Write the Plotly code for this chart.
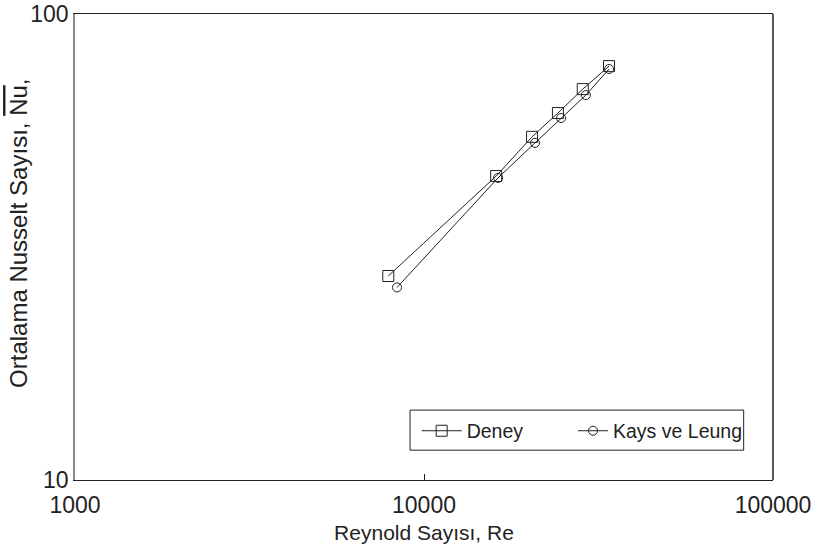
import plotly.graph_objects as go

# Experimental results (Deney)
re_deney = [7900, 16100, 20400, 24200, 28500, 33900]
nu_deney = [27.4, 44.9, 54.5, 61.3, 69.0, 77.3]

# Kays & Leung correlation
re_kays = [8370, 16300, 20800, 24700, 29100, 33900]
nu_kays = [25.9, 44.5, 52.9, 59.8, 67.0, 76.2]

x_ticks = [1000, 10000, 100000]
y_ticks = [10, 100]

FONT = "Liberation Sans, Arial, sans-serif"
INK = "#222222"

fig = go.Figure()
fig.add_trace(go.Scatter(
    x=re_deney, y=nu_deney, mode="lines+markers", name="Deney", legend="legend",
    line=dict(color=INK, width=1),
    marker=dict(symbol="square-open", size=11, color=INK, line=dict(width=1, color=INK)),
))
fig.add_trace(go.Scatter(
    x=re_kays, y=nu_kays, mode="lines+markers", name="Kays ve Leung", legend="legend2",
    line=dict(color=INK, width=1),
    marker=dict(symbol="circle-open", size=9, color=INK, line=dict(width=1, color=INK)),
))

legend_common = dict(
    orientation="h", yanchor="middle", xanchor="left", y=0.105,
    borderwidth=0, bgcolor="rgba(0,0,0,0)",
    font=dict(family=FONT, size=19.5, color=INK),
)

fig.update_layout(
    width=815, height=550,
    margin=dict(l=75, r=42, t=14, b=70),
    paper_bgcolor="white", plot_bgcolor="white",
    font=dict(family=FONT, size=20, color=INK),
    showlegend=True,
    legend=dict(legend_common, x=0.4895, itemwidth=40),
    legend2=dict(legend_common, x=0.7135, itemwidth=30),
    xaxis=dict(
        type="log", range=[3, 5], tickvals=x_ticks, ticktext=[str(v) for v in x_ticks],
        ticks="inside", ticklen=6, tickcolor=INK, ticklabelstandoff=4,
        showline=True, linecolor=INK, linewidth=1, mirror=True,
        showgrid=False, zeroline=False, automargin=False,
        tickfont=dict(size=23),
        title=dict(text="Reynold Sayısı, Re", font=dict(size=21), standoff=8),
    ),
    yaxis=dict(
        type="log", range=[1, 2], tickvals=y_ticks, ticktext=[str(v) for v in y_ticks],
        ticks="", showline=True, linecolor="#8a8a8a", linewidth=1.5,
        showgrid=False, zeroline=False, automargin=False,
        tickfont=dict(size=23),
    ),
    shapes=[
        # right-hand frame edge
        dict(type="line", xref="paper", yref="paper", x0=1, x1=1, y0=0, y1=1,
             line=dict(color=INK, width=1.5)),
        # legend frame
        dict(type="rect", xref="paper", yref="paper", x0=0.48, x1=0.958, y0=0.064, y1=0.150,
             line=dict(color=INK, width=1), fillcolor="rgba(0,0,0,0)", layer="above"),
    ],
    annotations=[dict(
        text="Ortalama Nusselt Sayısı, <span style='text-decoration:overline'>Nu</span>,",
        textangle=-90, xref="paper", yref="paper", x=0, y=0.528,
        xanchor="center", yanchor="middle", xshift=-56, showarrow=False,
        font=dict(family=FONT, size=24, color=INK),
    )],
)

fig.write_html("out.html")
